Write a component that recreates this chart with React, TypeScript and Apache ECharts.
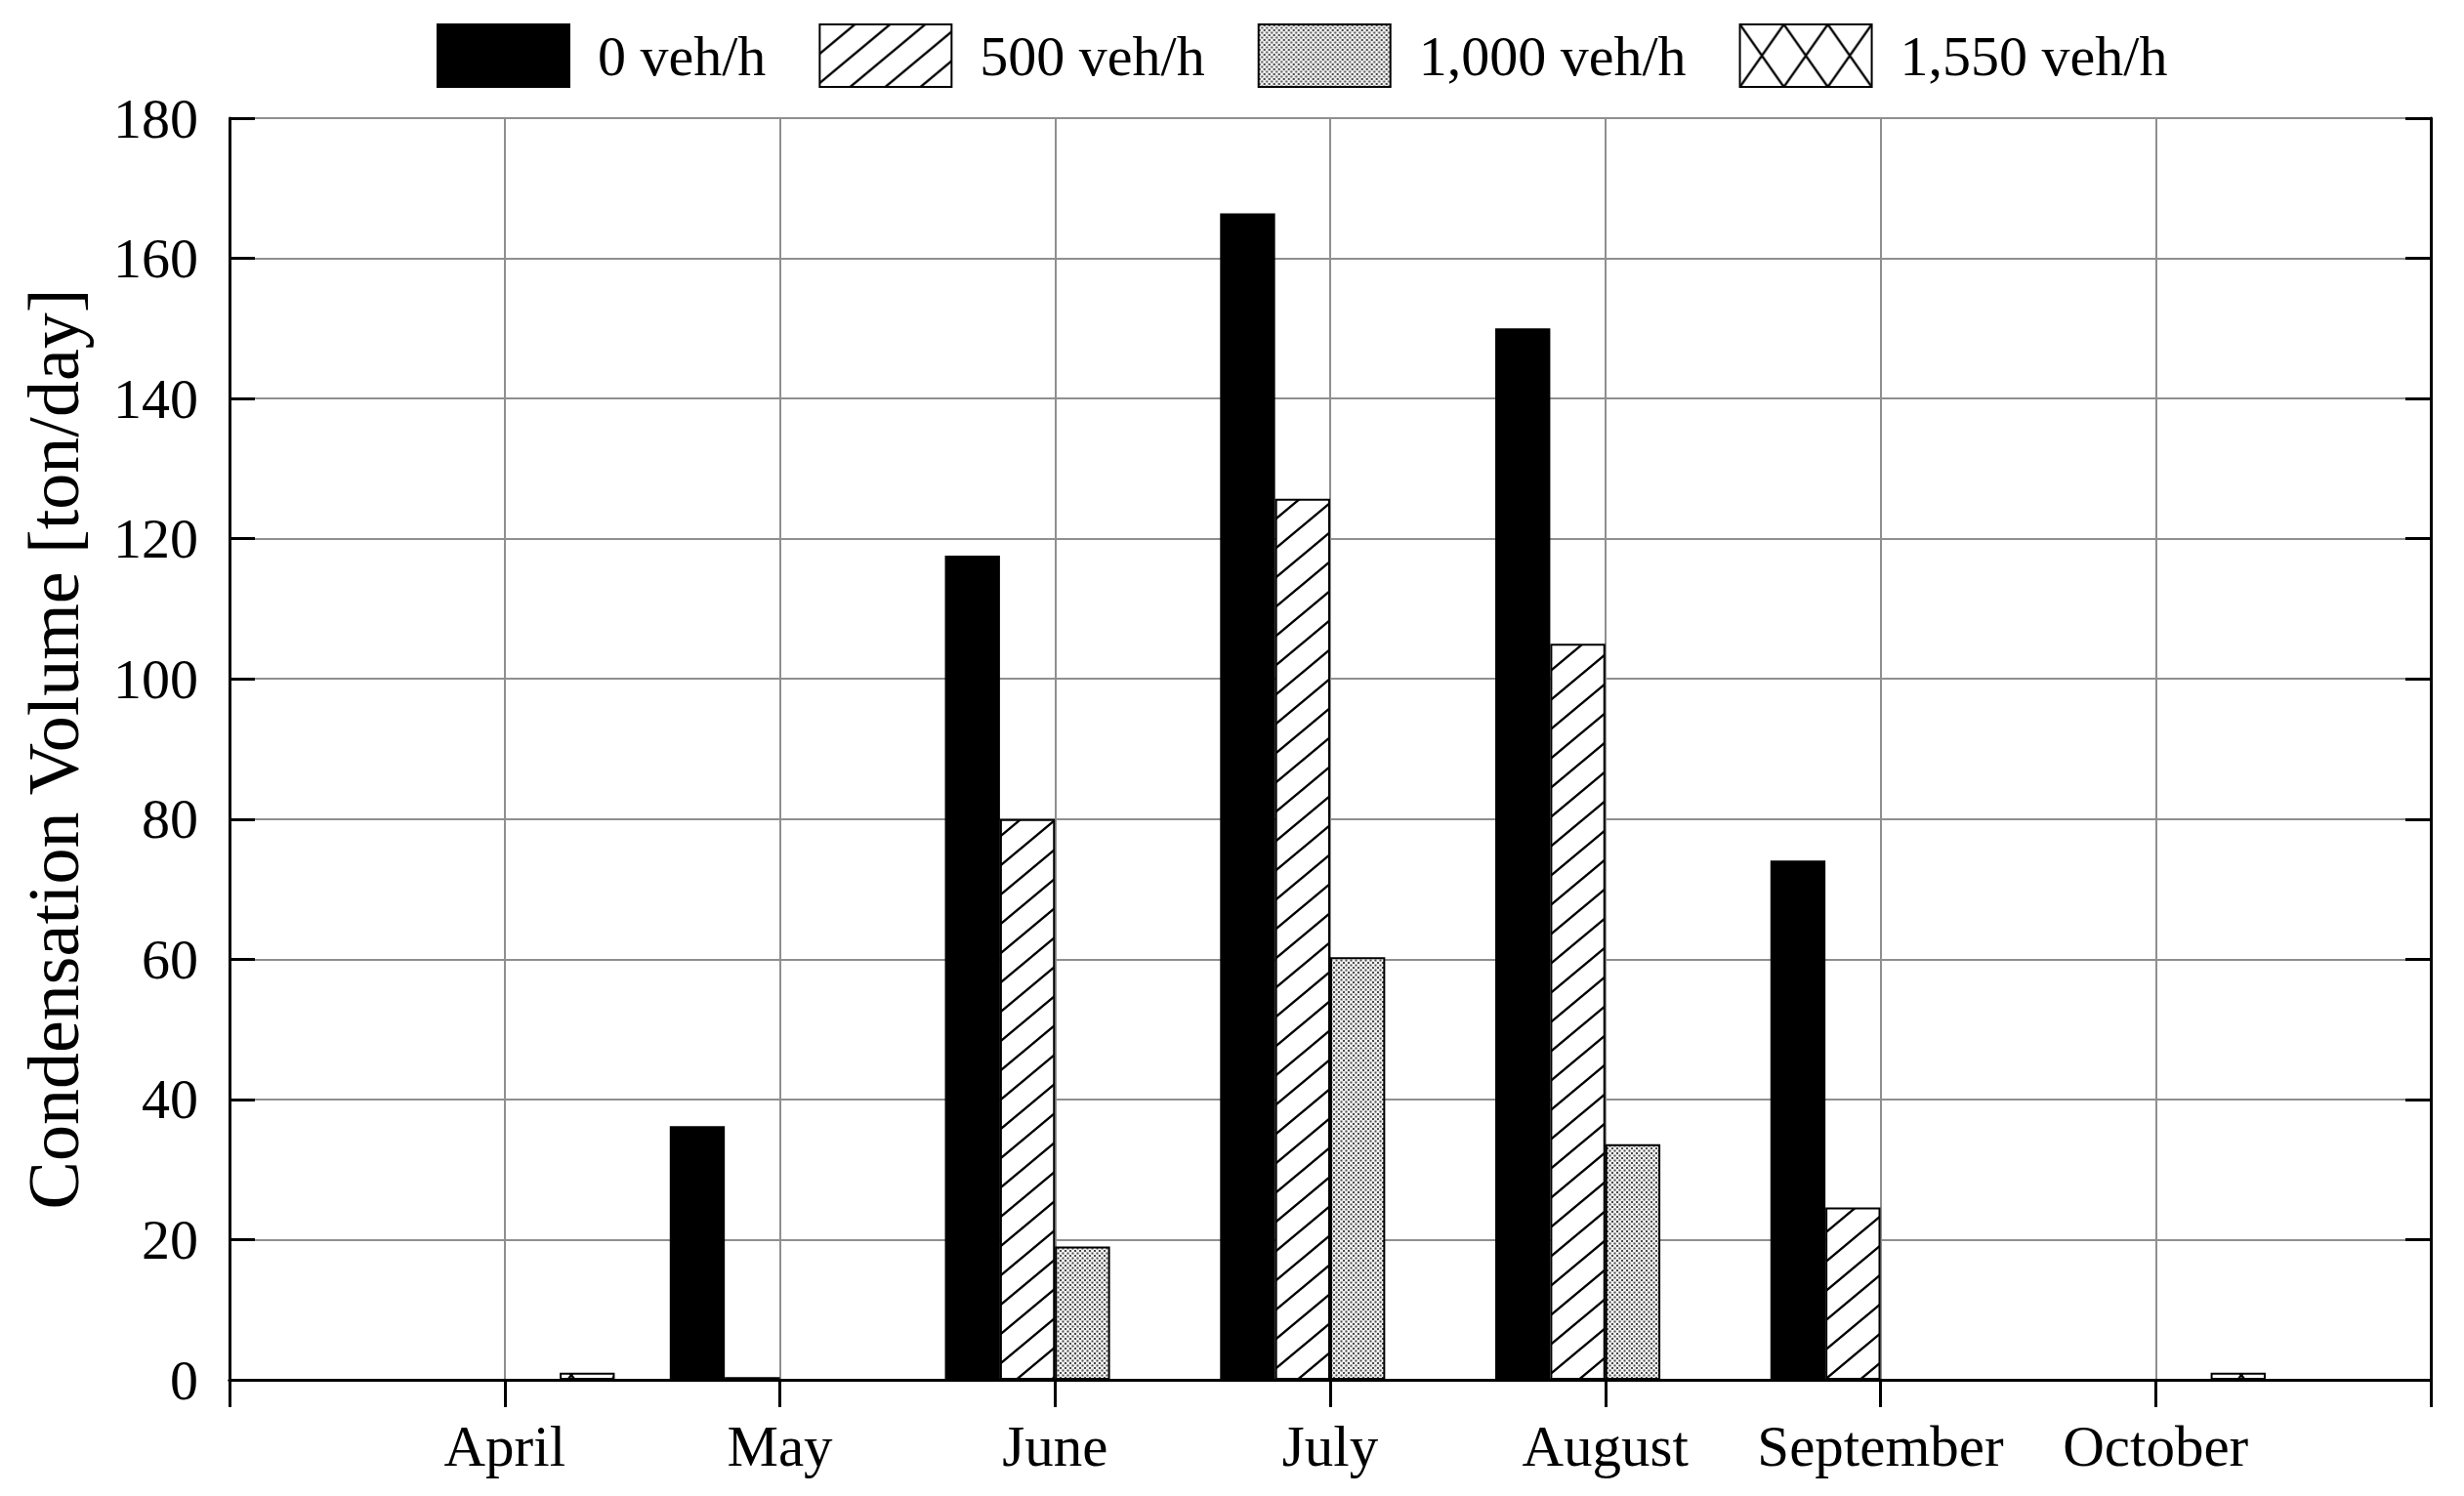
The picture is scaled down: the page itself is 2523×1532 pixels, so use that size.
import React, { useEffect, useRef } from 'react';
import * as echarts from 'echarts';

const months = ['April', 'May', 'June', 'July', 'August', 'September', 'October'];
const seriesNames = ['0 veh/h', '500 veh/h', '1,000 veh/h', '1,550 veh/h'];
const veh0 = [0, 36.2, 117.6, 166.4, 150.0, 74.1, 0];
const veh500 = [0, 0.4, 80.0, 125.7, 105.0, 24.6, 0];
const veh1000 = [0, 0, 19.0, 60.3, 33.6, 0, 0];
const veh1550 = [1.0, 0, 0, 0, 0, 0, 1.0];
const yMin = 0;
const yMax = 180;
const yStep = 20;
const yTitle = 'Condensation Volume [ton/day]';

const FONT = "'Liberation Serif', 'Times New Roman', serif";

const svgUrl = (w: number, h: number, body: string) =>
  'data:image/svg+xml;charset=utf-8,' +
  encodeURIComponent(
    `<svg xmlns="http://www.w3.org/2000/svg" width="${w}" height="${h}">${body}</svg>`
  );

const hatchPattern = {
  image: svgUrl(
    36,
    30,
    '<rect width="36" height="30" fill="#fff"/>' +
      '<path d="M-4,33.33 L40,-3.33 M-4,3.33 L4,-3.33 M32,33.33 L40,26.67" stroke="#000" stroke-width="2.4" fill="none"/>'
  ),
  repeat: 'repeat',
  imageWidth: 36,
  imageHeight: 30,
};

const stipplePattern = {
  image: svgUrl(
    5,
    5,
    '<rect width="5" height="5" fill="#f2f2f2"/>' +
      '<rect x="0" y="0" width="2" height="2" fill="#4a4a4a"/>' +
      '<rect x="2.5" y="2.5" width="2" height="2" fill="#4a4a4a"/>'
  ),
  repeat: 'repeat',
  imageWidth: 5,
  imageHeight: 5,
};

const crossPattern = {
  image: svgUrl(
    45,
    64,
    '<rect width="45" height="64" fill="#fff"/>' +
      '<path d="M0,0 L45,64 M0,64 L45,0" stroke="#000" stroke-width="2.4" fill="none"/>'
  ),
  repeat: 'repeat',
  imageWidth: 45,
  imageHeight: 64,
};

const fills: any[] = ['#000000', hatchPattern, stipplePattern, crossPattern];
const values = [veh0, veh500, veh1000, veh1550];

export default function App() {
  const ref = useRef<HTMLDivElement>(null);

  useEffect(() => {
    if (!ref.current) return;
    const chart = echarts.init(ref.current, null, { renderer: 'svg' });

    const categories = ['', ...months, ''];

    const option: any = {
      animation: false,
      backgroundColor: '#ffffff',
      grid: { left: 235, right: 34, top: 121, bottom: 119, containLabel: false },
      legend: {
        data: seriesNames,
        left: 442,
        top: 19,
        icon: 'rect',
        itemWidth: 135,
        itemHeight: 64,
        itemGap: 54,
        itemStyle: { borderColor: '#000', borderWidth: 2 },
        textStyle: {
          fontFamily: FONT,
          fontSize: 58,
          color: '#000',
          padding: [0, 0, 0, 24],
        },
      },
      xAxis: [
        {
          type: 'category',
          data: categories,
          boundaryGap: false,
          position: 'bottom',
          axisLine: { show: true, lineStyle: { color: '#000', width: 3 } },
          axisTick: { show: true, inside: false, length: 28, interval: 0, lineStyle: { color: '#000', width: 3 } },
          axisLabel: { interval: 0, fontFamily: FONT, fontSize: 59, color: '#000', margin: 38 },
          splitLine: { show: true, interval: 0, lineStyle: { color: '#8f8f8f', width: 2 } },
        },
        {
          type: 'category',
          data: categories,
          boundaryGap: false,
          position: 'top',
          axisLine: { show: true, lineStyle: { color: '#000', width: 3 } },
          axisTick: { show: true, inside: true, length: 22, interval: 0, lineStyle: { color: '#000', width: 3 } },
          axisLabel: { show: false },
          splitLine: { show: false },
        },
      ],
      yAxis: [
        {
          type: 'value',
          min: yMin,
          max: yMax,
          interval: yStep,
          position: 'left',
          name: yTitle,
          nameLocation: 'middle',
          nameGap: 143,
          nameTextStyle: { fontFamily: FONT, fontSize: 74, color: '#000' },
          axisLine: { show: true, lineStyle: { color: '#000', width: 3 } },
          axisTick: { show: true, inside: true, length: 26, lineStyle: { color: '#000', width: 3 } },
          axisLabel: { fontFamily: FONT, fontSize: 58, color: '#000', margin: 32 },
          splitLine: { show: true, lineStyle: { color: '#8f8f8f', width: 2 } },
        },
        {
          type: 'value',
          min: yMin,
          max: yMax,
          interval: yStep,
          position: 'right',
          axisLine: { show: true, lineStyle: { color: '#000', width: 3 } },
          axisTick: { show: true, inside: true, length: 26, lineStyle: { color: '#000', width: 3 } },
          axisLabel: { show: false },
          splitLine: { show: false },
        },
      ],
      series: seriesNames.map((name, i) => ({
        name,
        type: 'bar',
        xAxisIndex: 0,
        yAxisIndex: 0,
        barGap: '0%',
        barCategoryGap: '20%',
        itemStyle: { color: fills[i], borderColor: '#000', borderWidth: 2 },
        emphasis: { disabled: true },
        data: ['-', ...values[i], '-'],
      })),
    };

    chart.setOption(option);
    return () => chart.dispose();
  }, []);

  return (
    <div
      ref={ref}
      style={{ position: 'fixed', left: 0, top: 0, width: 2523, height: 1532, background: '#fff' }}
    />
  );
}
